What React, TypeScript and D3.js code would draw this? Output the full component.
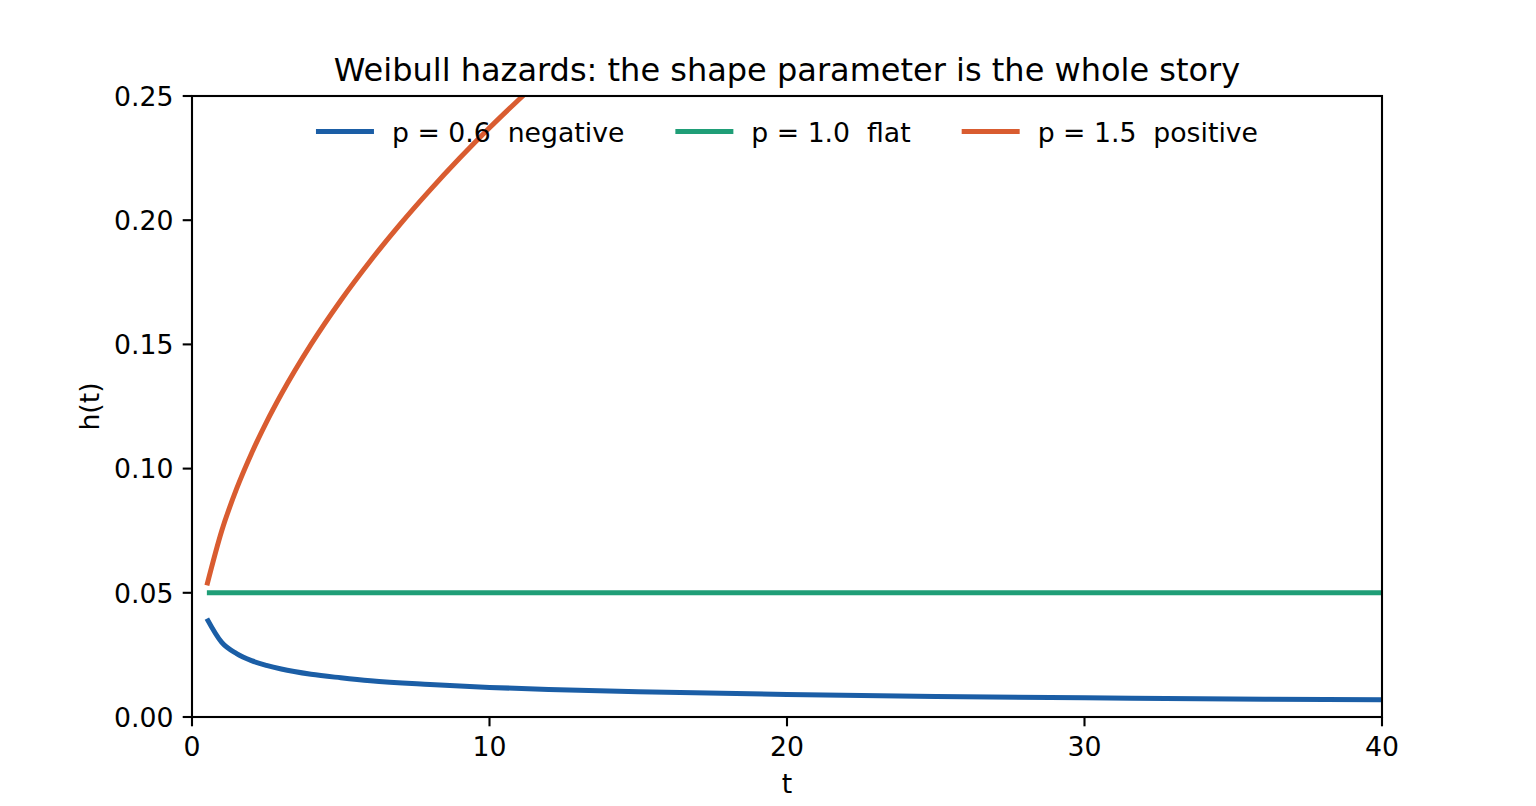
import React, { useEffect, useRef } from "react";
import * as d3 from "d3";

// ---- data ----
const negT = [0.5, 1, 1.5, 2, 2.5, 3, 4, 5, 6, 8, 10, 12, 15, 20, 25, 30, 35, 40];
const negH = [0.0396, 0.030, 0.0255, 0.0227, 0.0208, 0.0193, 0.0172, 0.0158, 0.0146, 0.0131, 0.0119, 0.0111, 0.0102, 0.0091, 0.0083, 0.0077, 0.0072, 0.0069];

const flatT = [0.5, 40];
const flatH = [0.05, 0.05];

const posT = [0.5, 1, 1.5, 2, 2.5, 3, 4, 5, 6, 7, 8, 9, 10, 11, 12, 13];
const posH = [0.053, 0.075, 0.0919, 0.1061, 0.1186, 0.1299, 0.150, 0.1677, 0.1837, 0.1984, 0.2121, 0.2250, 0.2372, 0.2487, 0.2598, 0.2704];

const seriesLabels = ["p = 0.6  negative", "p = 1.0  flat", "p = 1.5  positive"];
const seriesColors = ["#1b5ea6", "#1f9e77", "#d95c30"];

const xTicks = [0, 10, 20, 30, 40];
const yTicks = [0.0, 0.05, 0.1, 0.15, 0.2, 0.25];

const title = "Weibull hazards: the shape parameter is the whole story";
const xLabel = "t";
const yLabel = "h(t)";

const W = 1536;
const H = 806;
const FONT = "'DejaVu Sans', sans-serif";
const FS = 26.7;
const TFS = 32;

export default function App() {
  const ref = useRef<SVGSVGElement | null>(null);

  useEffect(() => {
    const svg = d3.select(ref.current);
    svg.selectAll("*").remove();

    const L = 192, R = 1382, T = 96, B = 717;
    const x = d3.scaleLinear().domain([0, 40]).range([L, R]);
    const y = d3.scaleLinear().domain([0, 0.25]).range([B, T]);

    svg.append("rect").attr("width", W).attr("height", H).attr("fill", "white");

    svg.append("defs").append("clipPath").attr("id", "plotclip")
      .append("rect").attr("x", L).attr("y", T).attr("width", R - L).attr("height", B - T);

    const series = [
      { t: negT, h: negH },
      { t: flatT, h: flatH },
      { t: posT, h: posH },
    ];

    const line = d3.line<[number, number]>()
      .x((d) => x(d[0]))
      .y((d) => y(d[1]))
      .curve(d3.curveMonotoneX);

    const g = svg.append("g").attr("clip-path", "url(#plotclip)");
    series.forEach((s, i) => {
      const pts: [number, number][] = s.t.map((t, j) => [t, s.h[j]]);
      g.append("path")
        .attr("d", line(pts))
        .attr("fill", "none")
        .attr("stroke", seriesColors[i])
        .attr("stroke-width", 5)
        .attr("stroke-linecap", "butt");
    });

    // frame
    svg.append("rect")
      .attr("x", L).attr("y", T).attr("width", R - L).attr("height", B - T)
      .attr("fill", "none").attr("stroke", "black").attr("stroke-width", 2.1);

    // x ticks
    const xt = svg.append("g");
    xTicks.forEach((v) => {
      xt.append("line").attr("x1", x(v)).attr("x2", x(v)).attr("y1", B).attr("y2", B + 9.3)
        .attr("stroke", "black").attr("stroke-width", 2.1);
      xt.append("text").attr("x", x(v)).attr("y", 756).attr("text-anchor", "middle")
        .attr("font-family", FONT).attr("font-size", FS).attr("fill", "black").text(String(v));
    });

    // y ticks
    const yt = svg.append("g");
    yTicks.forEach((v) => {
      yt.append("line").attr("x1", L - 9.3).attr("x2", L).attr("y1", y(v)).attr("y2", y(v))
        .attr("stroke", "black").attr("stroke-width", 2.1);
      yt.append("text").attr("x", L - 18.6).attr("y", y(v) + 9.7).attr("text-anchor", "end")
        .attr("font-family", FONT).attr("font-size", FS).attr("fill", "black").text(d3.format(".2f")(v));
    });

    // labels
    svg.append("text").attr("x", (L + R) / 2).attr("y", 793).attr("text-anchor", "middle")
      .attr("font-family", FONT).attr("font-size", FS).attr("fill", "black").text(xLabel);
    svg.append("text").attr("transform", `translate(99,${(T + B) / 2}) rotate(-90)`)
      .attr("text-anchor", "middle")
      .attr("font-family", FONT).attr("font-size", FS).attr("fill", "black").text(yLabel);

    svg.append("text").attr("x", (L + R) / 2).attr("y", 81).attr("text-anchor", "middle")
      .attr("font-family", FONT).attr("font-size", TFS).attr("fill", "black").text(title);

    // legend
    const handleLen = 58, pad = 18, colGap = 51;
    const lg = svg.append("g");
    const texts = seriesLabels.map((lab) =>
      lg.append("text").attr("font-family", FONT).attr("font-size", FS).attr("fill", "black")
        .attr("xml:space", "preserve").style("white-space", "pre").text(lab)
    );
    const widths = texts.map((t) => (t.node() as SVGTextElement).getComputedTextLength());
    const total = widths.reduce((a, w) => a + handleLen + pad + w, 0) + colGap * (widths.length - 1);
    let cx = (L + R) / 2 - total / 2;
    seriesLabels.forEach((_, i) => {
      lg.append("line").attr("x1", cx).attr("x2", cx + handleLen).attr("y1", 131.5).attr("y2", 131.5)
        .attr("stroke", seriesColors[i]).attr("stroke-width", 5);
      texts[i].attr("x", cx + handleLen + pad).attr("y", 141.5);
      cx += handleLen + pad + widths[i] + colGap;
    });
  }, []);

  return <svg ref={ref} width={W} height={H} style={{ display: "block", margin: "-8px" }} />;
}
